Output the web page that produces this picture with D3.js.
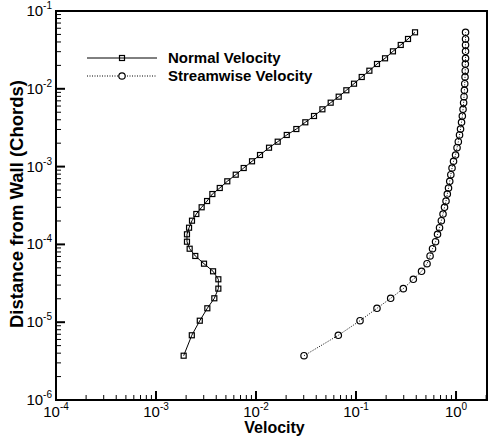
<!DOCTYPE html>
<html><head><meta charset="utf-8">
<script src="https://cdn.jsdelivr.net/npm/d3@7"></script>
<style>body{margin:0;background:#fff}svg{display:block}</style>
</head><body>
<svg id="c" width="490" height="436"></svg>
<script>
// Distance from wall (chords), shared by both series
const distance = [3.71e-6,6.79e-6,1.045e-5,1.51e-5,2.03e-5,2.70e-5,3.56e-5,4.51e-5,5.65e-5,7.10e-5,
  8.80e-5,1.083e-4,1.348e-4,1.639e-4,2.017e-4,2.459e-4,3.00e-4,3.61e-4,4.44e-4,5.31e-4,
  6.47e-4,7.87e-4,9.59e-4,1.170e-3,1.410e-3,1.749e-3,2.09e-3,2.55e-3,3.04e-3,3.71e-3,
  4.47e-3,5.45e-3,6.63e-3,7.92e-3,9.57e-3,1.163e-2,1.418e-2,1.708e-2,2.084e-2,2.466e-2,
  3.03e-2,3.66e-2,4.37e-2,5.32e-2];
const normalVelocity = [1.89e-3,2.28e-3,2.74e-3,3.26e-3,3.83e-3,4.20e-3,4.20e-3,3.72e-3,3.02e-3,2.47e-3,
  2.17e-3,2.04e-3,2.04e-3,2.14e-3,2.29e-3,2.53e-3,2.86e-3,3.24e-3,3.66e-3,4.34e-3,
  5.16e-3,6.27e-3,7.53e-3,9.12e-3,1.096e-2,1.349e-2,1.648e-2,2.03e-2,2.53e-2,3.11e-2,
  3.80e-2,4.61e-2,5.58e-2,6.71e-2,8.00e-2,9.55e-2,0.114,0.136,0.162,0.195,
  0.234,0.280,0.331,0.389];
const streamwiseVelocity = [0.0302,0.0665,0.1096,0.162,0.222,0.297,0.374,0.452,0.513,0.550,
  0.582,0.624,0.653,0.684,0.713,0.741,0.767,0.794,0.818,0.841,
  0.865,0.887,0.912,0.944,0.989,1.023,1.054,1.084,1.109,1.135,
  1.156,1.175,1.191,1.202,1.213,1.222,1.230,1.236,1.239,1.245,
  1.245,1.245,1.245,1.245];
const xTickExponents = [-4,-3,-2,-1,0];
const yTickExponents = [-6,-5,-4,-3,-2,-1];
const seriesNames = ["Normal Velocity","Streamwise Velocity"];

const svg = d3.select("#c");
const L=56,R=487,T=11,B=400;
const x = d3.scaleLog().domain([1e-4, 2.04]).range([L,R]);
const y = d3.scaleLog().domain([1e-6, 1e-1]).range([B,T]);
const font = "'Liberation Sans', Arial, sans-serif";

function minorTicks(lo, hi){
  const out=[];
  for(let e=lo;e<hi;e++) for(let m=2;m<=9;m++) out.push(m*Math.pow(10,e));
  return out;
}
const xMinor = minorTicks(-4,1).filter(v=>v<=x.domain()[1]);
const yMinor = minorTicks(-6,-1);
const g = svg.append("g").attr("stroke","#000").attr("stroke-width",1);
xMinor.forEach(v=>g.append("line").attr("x1",x(v)).attr("x2",x(v)).attr("y1",B).attr("y2",B-5));
xTickExponents.forEach(e=>g.append("line").attr("x1",x(Math.pow(10,e))).attr("x2",x(Math.pow(10,e))).attr("y1",B).attr("y2",B-9).attr("stroke-width",2));
yMinor.forEach(v=>g.append("line").attr("y1",y(v)).attr("y2",y(v)).attr("x1",L).attr("x2",L+5));
yTickExponents.forEach(e=>g.append("line").attr("y1",y(Math.pow(10,e))).attr("y2",y(Math.pow(10,e))).attr("x1",L).attr("x2",L+9).attr("stroke-width",2));

function label(sel, e){
  sel.append("tspan").text("10");
  sel.append("tspan").attr("dy",-7).attr("font-size",10).text(String(e));
}
xTickExponents.forEach(e=>{
  const t=svg.append("text").attr("x",x(Math.pow(10,e))).attr("y",B+17).attr("text-anchor","middle")
    .attr("font-family",font).attr("font-size",15).attr("fill","#000");
  label(t,e);
});
yTickExponents.forEach(e=>{
  const t=svg.append("text").attr("x",L-4).attr("y",y(Math.pow(10,e))+5).attr("text-anchor","end")
    .attr("font-family",font).attr("font-size",15).attr("fill","#000");
  label(t,e);
});

const idx = d3.range(distance.length);
const lineN = d3.line().x(i=>x(normalVelocity[i])).y(i=>y(distance[i]));
const lineS = d3.line().x(i=>x(streamwiseVelocity[i])).y(i=>y(distance[i]));
svg.append("path").attr("d",lineN(idx)).attr("fill","none").attr("stroke","#000").attr("stroke-width",1);
svg.append("path").attr("d",lineS(idx)).attr("fill","none").attr("stroke","#000").attr("stroke-width",1).attr("stroke-dasharray","1,1.5");
svg.append("g").selectAll("rect").data(idx).join("rect")
  .attr("x",i=>x(normalVelocity[i])-2.5).attr("y",i=>y(distance[i])-2.5).attr("width",5).attr("height",5)
  .attr("fill","none").attr("stroke","#000").attr("stroke-width",1.2);
svg.append("g").selectAll("circle").data(idx).join("circle")
  .attr("cx",i=>x(streamwiseVelocity[i])).attr("cy",i=>y(distance[i])).attr("r",3.2)
  .attr("fill","none").attr("stroke","#000").attr("stroke-width",1.2);

svg.append("rect").attr("x",L).attr("y",T).attr("width",R-L).attr("height",B-T)
  .attr("fill","none").attr("stroke","#000").attr("stroke-width",2);

const lg = svg.append("g");
const rows=[58,76];
lg.append("line").attr("x1",87).attr("x2",157).attr("y1",rows[0]).attr("y2",rows[0]).attr("stroke","#000");
lg.append("rect").attr("x",122-2.5).attr("y",rows[0]-2.5).attr("width",5).attr("height",5).attr("fill","none").attr("stroke","#000").attr("stroke-width",1.2);
lg.append("line").attr("x1",87).attr("x2",157).attr("y1",rows[1]).attr("y2",rows[1]).attr("stroke","#000").attr("stroke-dasharray","1,1.5");
lg.append("circle").attr("cx",122).attr("cy",rows[1]).attr("r",3.2).attr("fill","#fff").attr("stroke","#000").attr("stroke-width",1.2);
seriesNames.forEach((n,i)=>lg.append("text").attr("x",168).attr("y",rows[i]+5).attr("font-family",font)
  .attr("font-weight","bold").attr("font-size",15).attr("fill","#000").text(n));

svg.append("text").attr("x",(L+R)/2+3).attr("y",433).attr("text-anchor","middle").attr("font-family",font)
  .attr("font-weight","bold").attr("font-size",16).attr("fill","#000").text("Velocity");
svg.append("text").attr("transform",`translate(23,204) rotate(-90)`).attr("text-anchor","middle").attr("font-family",font)
  .attr("font-weight","bold").attr("font-size",18.5).attr("fill","#000").text("Distance from Wall (Chords)");
</script>
</body></html>
